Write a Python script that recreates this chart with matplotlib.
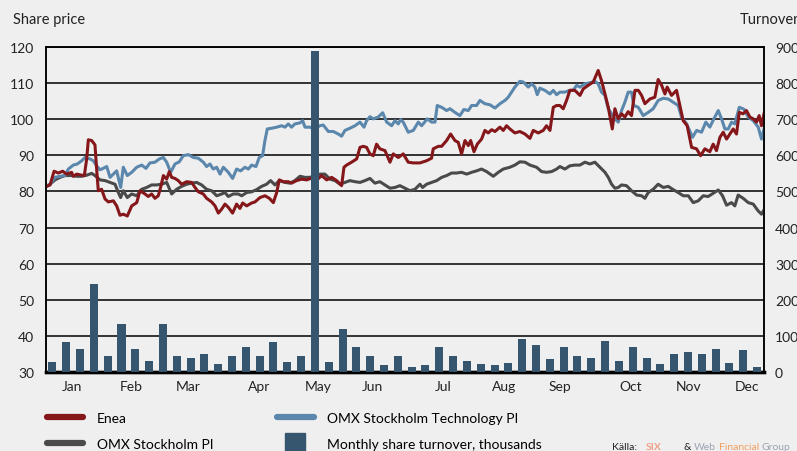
"""Enea share price vs OMX indices, with weekly turnover bars."""

import matplotlib.pyplot as plt
import numpy as np
from matplotlib.lines import Line2D

plt.rcParams["font.family"] = ["Lato", "DejaVu Sans"]

BG = "#efefef"
RED = "#85171b"
BLUE = "#5b87ad"
GREY = "#4a4a4a"
BAR = "#36566f"

# x positions are in weeks from the start of the year
month_labels = ["Jan", "Feb", "Mar", "Apr", "May", "Jun",
                "Jul", "Aug", "Sep", "Oct", "Nov", "Dec"]
month_pos = [1.92, 6.19, 10.31, 15.45, 19.72, 23.63,
             28.76, 33.18, 37.23, 42.37, 46.56, 50.76]

# weekly share turnover, thousands
turnover = [29, 84, 65, 245, 45, 134, 65, 31, 134, 43,
            40, 51, 23, 43, 68, 45, 84, 29, 45, 890,
            29, 120, 70, 43, 18, 43, 15, 20, 70, 43,
            31, 23, 20, 26, 90, 76, 37, 68, 45, 40,
            87, 31, 70, 40, 23, 51, 54, 51, 65, 26,
            62, 15]

enea_week = [0.00, 0.33, 0.62, 0.93, 1.24, 1.53, 1.89, 2.01, 2.26, 2.62,
             2.81, 2.98, 3.10, 3.34, 3.58, 3.70, 3.82, 4.06, 4.31, 4.55,
             4.91, 5.15, 5.39, 5.63, 5.92, 6.24, 6.60, 6.84, 7.20, 7.44,
             7.68, 7.92, 8.16, 8.33, 8.53, 8.77, 8.96, 9.13, 9.37, 9.61,
             9.85, 10.22, 10.58, 10.82, 11.06, 11.42, 11.66, 12.02, 12.27, 12.51,
             12.75, 12.99, 13.23, 13.54, 13.83, 14.07, 14.27, 14.56, 14.92, 15.16,
             15.52, 15.88, 16.20, 16.49, 16.73, 16.92, 17.21, 17.57, 17.81, 18.17,
             18.54, 18.90, 19.26, 19.62, 19.98, 20.35, 20.71, 21.07, 21.43, 21.60,
             21.79, 22.15, 22.52, 22.76, 23.00, 23.24, 23.48, 23.72, 23.96, 24.20,
             24.57, 24.93, 25.17, 25.53, 25.89, 26.25, 26.62, 27.10, 27.58, 27.94,
             28.06, 28.43, 28.67, 29.03, 29.32, 29.63, 29.87, 30.11, 30.36, 30.60,
             30.77, 31.01, 31.25, 31.56, 31.80, 32.04, 32.29, 32.53, 32.89, 33.13,
             33.37, 33.61, 33.97, 34.33, 34.70, 35.06, 35.30, 35.66, 36.02, 36.26,
             36.51, 36.75, 36.99, 37.23, 37.47, 37.71, 37.95, 38.31, 38.68, 38.92,
             39.28, 39.64, 40.00, 40.24, 40.49, 40.73, 41.02, 41.21, 41.45, 41.69,
             41.93, 42.17, 42.41, 42.66, 42.90, 43.14, 43.38, 43.74, 44.10, 44.34,
             44.59, 44.83, 44.99, 45.31, 45.67, 45.91, 46.15, 46.44, 46.76, 47.12,
             47.41, 47.72, 48.08, 48.32, 48.56, 48.81, 49.05, 49.29, 49.53, 49.77,
             50.01, 50.21, 50.49, 50.73, 50.98, 51.22, 51.46, 51.65, 51.82, 52.00]
enea_price = [81.3, 81.8, 85.6, 85.1, 85.6, 84.8, 85.3, 84.2, 84.8, 84.5,
              84.4, 89.0, 94.3, 94.1, 92.9, 86.2, 80.2, 80.6, 77.9, 77.1,
              77.4, 76.0, 73.4, 73.7, 73.2, 76.0, 76.9, 80.2, 79.3, 78.6,
              79.3, 78.1, 78.8, 81.1, 84.4, 83.4, 85.5, 83.9, 83.6, 83.0,
              82.0, 82.7, 82.5, 81.1, 79.9, 79.3, 78.1, 77.1, 76.0, 74.0,
              75.1, 76.5, 75.6, 74.0, 76.5, 75.3, 76.8, 76.0, 76.8, 77.1,
              78.3, 78.8, 78.1, 76.9, 79.7, 83.2, 82.7, 82.7, 82.3, 83.0,
              83.4, 83.2, 83.7, 83.1, 84.4, 83.2, 83.9, 83.0, 81.6, 86.7,
              87.3, 88.1, 89.0, 92.2, 92.5, 92.2, 90.4, 89.9, 93.1, 91.8,
              91.3, 88.1, 90.4, 89.4, 90.4, 88.1, 87.9, 87.9, 88.5, 89.2,
              91.8, 92.5, 92.5, 94.1, 95.9, 94.1, 93.6, 90.4, 94.1, 92.7,
              94.1, 91.0, 93.1, 94.5, 96.9, 96.2, 97.1, 96.6, 97.8, 96.9,
              98.2, 97.3, 96.2, 96.6, 95.9, 94.7, 96.9, 96.2, 96.9, 98.2,
              96.9, 103.3, 103.8, 103.8, 102.9, 105.2, 108.0, 108.0, 106.6, 108.4,
              109.4, 110.3, 113.5, 110.7, 107.0, 103.3, 97.3, 102.9, 100.1, 101.5,
              100.6, 102.1, 101.0, 108.0, 108.0, 106.6, 104.3, 105.6, 106.1, 111.0,
              109.4, 107.0, 108.9, 106.6, 108.0, 103.8, 99.6, 98.2, 92.2, 91.8,
              89.9, 91.8, 91.0, 93.1, 91.3, 95.0, 96.4, 94.5, 95.9, 97.3,
              95.9, 101.9, 101.5, 102.4, 100.6, 100.1, 99.2, 101.0, 98.2, 101.5]

tech_week = [0.00, 0.33, 0.69, 1.05, 1.41, 1.65, 2.01, 2.30, 2.62, 2.86,
             3.22, 3.46, 3.70, 3.94, 4.18, 4.43, 4.67, 4.91, 5.15, 5.44,
             5.63, 5.92, 6.24, 6.60, 6.96, 7.27, 7.56, 7.92, 8.24, 8.53,
             8.77, 9.06, 9.37, 9.68, 9.97, 10.34, 10.70, 11.06, 11.42, 11.66,
             11.90, 12.14, 12.39, 12.63, 12.87, 13.23, 13.54, 13.83, 14.12, 14.44,
             14.68, 14.92, 15.23, 15.47, 15.71, 15.88, 16.05, 16.37, 16.73, 17.09,
             17.33, 17.57, 17.81, 18.05, 18.42, 18.61, 18.78, 19.14, 19.50, 19.86,
             20.10, 20.47, 20.83, 21.19, 21.43, 21.67, 22.03, 22.40, 22.76, 23.05,
             23.24, 23.48, 23.72, 24.08, 24.40, 24.69, 25.05, 25.29, 25.53, 25.70,
             25.89, 26.25, 26.62, 26.98, 27.22, 27.63, 27.94, 28.19, 28.35, 28.67,
             29.03, 29.27, 29.63, 29.99, 30.28, 30.60, 30.84, 31.20, 31.44, 31.80,
             32.16, 32.53, 32.89, 33.25, 33.49, 33.73, 33.97, 34.33, 34.58, 34.94,
             35.18, 35.42, 35.59, 35.78, 36.14, 36.51, 36.75, 36.99, 37.23, 37.59,
             37.95, 38.19, 38.44, 38.68, 38.92, 39.04, 39.40, 39.76, 40.00, 40.24,
             40.49, 40.73, 40.97, 41.21, 41.45, 41.69, 41.93, 42.17, 42.41, 42.58,
             42.90, 43.26, 43.62, 43.98, 44.34, 44.71, 45.07, 45.43, 45.79, 46.03,
             46.39, 46.83, 47.12, 47.48, 47.79, 48.08, 48.37, 48.69, 48.93, 49.17,
             49.41, 49.65, 49.89, 50.21, 50.54, 50.86, 51.22, 51.58, 51.82, 52.00]
tech_index = [81.3, 82.0, 83.9, 84.2, 84.4, 86.2, 87.3, 87.6, 88.5, 89.4,
              89.0, 88.5, 87.1, 86.0, 86.4, 86.9, 83.9, 84.8, 85.7, 81.1,
              86.7, 84.4, 85.3, 86.7, 87.3, 86.4, 87.9, 88.1, 89.0, 89.4,
              88.1, 85.3, 87.6, 88.2, 89.9, 90.2, 89.4, 89.2, 88.1, 86.9,
              87.6, 86.2, 86.7, 84.8, 86.7, 85.3, 83.6, 86.2, 85.7, 86.7,
              86.2, 87.3, 86.9, 89.4, 89.9, 94.1, 97.3, 97.5, 97.8, 98.2,
              97.8, 98.7, 97.8, 98.7, 99.0, 99.6, 97.8, 97.8, 97.3, 98.2,
              98.4, 96.6, 96.6, 95.9, 95.3, 96.9, 97.5, 98.2, 99.2, 97.8,
              99.6, 100.7, 100.1, 100.6, 101.8, 99.2, 98.2, 99.6, 98.7, 99.9,
              99.2, 96.4, 96.9, 99.2, 98.2, 100.1, 99.2, 99.2, 103.8, 103.3,
              102.4, 102.9, 101.9, 101.0, 102.7, 102.4, 103.8, 103.8, 105.2, 104.3,
              104.0, 103.1, 104.3, 105.2, 106.1, 107.5, 108.9, 110.5, 110.3, 108.9,
              109.8, 108.9, 106.8, 108.6, 108.0, 107.0, 108.0, 106.8, 107.5, 107.5,
              108.0, 108.0, 109.4, 108.9, 109.5, 109.8, 110.1, 110.5, 109.8, 107.5,
              106.6, 102.9, 101.5, 100.1, 99.2, 102.4, 104.7, 107.5, 107.5, 103.8,
              103.3, 101.0, 101.9, 102.9, 105.2, 105.8, 105.6, 104.7, 103.8, 100.6,
              98.8, 95.0, 96.9, 96.4, 99.2, 97.8, 100.1, 102.4, 100.1, 97.3,
              97.3, 99.2, 98.7, 103.3, 102.8, 100.6, 99.6, 97.8, 94.5, 97.3]

omx_week = [0.00, 0.33, 0.69, 1.05, 1.41, 1.89, 2.26, 2.62, 2.98, 3.34,
            3.58, 3.94, 4.31, 4.67, 5.03, 5.27, 5.44, 5.63, 5.92, 6.24,
            6.60, 6.96, 7.32, 7.68, 8.04, 8.40, 8.77, 9.13, 9.49, 9.85,
            10.22, 10.58, 10.94, 11.30, 11.66, 12.02, 12.39, 12.75, 12.99, 13.23,
            13.59, 13.95, 14.20, 14.56, 14.92, 15.28, 15.64, 16.00, 16.29, 16.61,
            16.92, 17.33, 17.69, 18.05, 18.42, 18.78, 19.14, 19.50, 19.86, 20.22,
            20.59, 20.95, 21.31, 21.67, 22.03, 22.40, 22.76, 23.12, 23.48, 23.84,
            24.20, 24.57, 24.93, 25.29, 25.65, 26.01, 26.38, 26.74, 27.10, 27.29,
            27.58, 27.94, 28.31, 28.67, 29.03, 29.39, 29.75, 30.11, 30.48, 30.84,
            31.20, 31.56, 31.92, 32.41, 32.77, 33.13, 33.61, 33.97, 34.33, 34.70,
            35.06, 35.54, 35.90, 36.26, 36.63, 36.99, 37.23, 37.59, 37.95, 38.31,
            38.68, 39.04, 39.40, 39.76, 40.12, 40.49, 40.73, 40.97, 41.21, 41.45,
            41.69, 42.05, 42.41, 42.78, 43.14, 43.38, 43.62, 43.98, 44.34, 44.71,
            45.07, 45.43, 45.79, 46.15, 46.52, 46.88, 47.24, 47.60, 47.96, 48.32,
            48.69, 49.00, 49.29, 49.65, 49.89, 50.13, 50.49, 50.86, 51.22, 51.58,
            51.82, 52.00]
omx_index = [81.3, 82.0, 83.2, 83.9, 84.4, 84.4, 84.2, 84.2, 84.5, 85.0,
             84.4, 83.2, 83.0, 82.5, 82.0, 79.7, 78.3, 80.2, 78.3, 79.3,
             78.8, 80.6, 81.1, 81.8, 81.8, 82.0, 82.5, 79.3, 80.6, 81.4,
             82.0, 82.3, 82.5, 81.8, 80.6, 80.2, 78.8, 79.3, 79.7, 78.6,
             79.3, 79.3, 78.8, 79.7, 79.9, 80.5, 81.4, 82.0, 83.0, 81.8,
             83.0, 82.5, 82.3, 83.0, 84.2, 83.9, 83.9, 84.4, 84.8, 84.8,
             83.4, 83.0, 82.0, 82.5, 83.0, 82.7, 82.5, 83.0, 83.6, 82.3,
             82.7, 81.8, 80.9, 81.1, 81.6, 80.9, 80.2, 80.6, 82.0, 81.1,
             82.0, 82.5, 83.0, 83.9, 84.4, 85.1, 85.1, 85.3, 84.8, 85.3,
             85.7, 86.2, 85.5, 84.2, 85.3, 86.2, 86.7, 87.3, 88.2, 88.1,
             87.3, 86.7, 85.5, 85.3, 85.5, 86.2, 86.9, 86.2, 87.1, 87.3,
             87.3, 88.1, 87.6, 88.1, 86.7, 85.3, 83.9, 82.0, 80.9, 81.1,
             81.8, 81.6, 80.2, 79.0, 78.8, 78.1, 79.7, 80.6, 82.0, 81.1,
             81.4, 80.5, 79.7, 78.8, 78.8, 76.9, 77.4, 78.8, 78.6, 79.5,
             80.4, 78.8, 76.2, 76.9, 76.0, 79.0, 78.1, 76.9, 76.5, 74.6,
             73.7, 74.9]

fig = plt.figure(figsize=(7.97, 4.52), dpi=100, facecolor=BG)
ax = fig.add_axes([0.0571, 0.1748, 0.9015, 0.719])
ax.set_facecolor(BG)

ax.plot(omx_week, omx_index, color=GREY, lw=2.2, zorder=3)
ax.plot(tech_week, tech_index, color=BLUE, lw=2.2, zorder=3)
ax.plot(enea_week, enea_price, color=RED, lw=2.2, zorder=4)

ax.set_xlim(0, 52)
ax.set_ylim(30, 120)
ax.set_yticks(np.arange(30, 121, 10))
ax.set_xticks(month_pos)
ax.set_xticklabels(month_labels)
ax.yaxis.grid(True, color="black", lw=1.1)
ax.set_axisbelow(True)
ax.tick_params(axis="y", length=0, labelsize=10, pad=8, colors="#222222")
ax.tick_params(axis="x", length=0, labelsize=10, pad=6, colors="#222222")

ax2 = ax.twinx()
ax2.bar(np.arange(len(turnover)) + 0.5, turnover, width=0.58, color=BAR, zorder=5)
ax2.set_ylim(0, 900)
ax2.set_yticks(np.arange(0, 901, 100))
ax2.tick_params(axis="y", length=0, labelsize=10, pad=8, colors="#222222")

for a in (ax, ax2):
    for side in ("left", "right", "top"):
        a.spines[side].set_linewidth(1.1)
    a.spines["bottom"].set_linewidth(2.4)

fig.text(13 / 797, 1 - 20 / 452, "Share price", fontsize=10.5, va="center", color="#222222")
fig.text(740 / 797, 1 - 20 / 452, "Turnover", fontsize=10.5, va="center", color="#222222")

handles = [
    Line2D([], [], color=RED, lw=4.5, solid_capstyle="round"),
    Line2D([], [], color=GREY, lw=4.5, solid_capstyle="round"),
    Line2D([], [], color=BLUE, lw=4.5, solid_capstyle="round"),
    Line2D([], [], color=BAR, marker="s", markersize=15, linestyle="none"),
]
labels = ["Enea", "OMX Stockholm PI", "OMX Stockholm Technology PI",
          "Monthly share turnover, thousands"]
fig.legend(handles, labels, ncol=2, loc="upper left", bbox_to_anchor=(0.059, 0.086),
           frameon=False, fontsize=10, handlelength=2.6, handletextpad=1.0,
           columnspacing=4.6, labelspacing=1.0, borderpad=0, borderaxespad=0)

fig.text(0.768, 0.009, "Källa:", fontsize=7.5, va="center", color="#222222")
fig.text(0.810, 0.009, "SIX", fontsize=7.5, va="center", color="#f0a08a", weight="bold")
fig.text(0.858, 0.009, "&", fontsize=7.5, va="center", color="#222222")
fig.text(0.870, 0.009, "Web", fontsize=7.5, va="center", color="#9aa4b4")
fig.text(0.902, 0.009, "Financial", fontsize=7.5, va="center", color="#f2a060")
fig.text(0.955, 0.009, "Group", fontsize=7.5, va="center", color="#9aa4b4")

fig.savefig("out.png", dpi=100, facecolor=BG)
